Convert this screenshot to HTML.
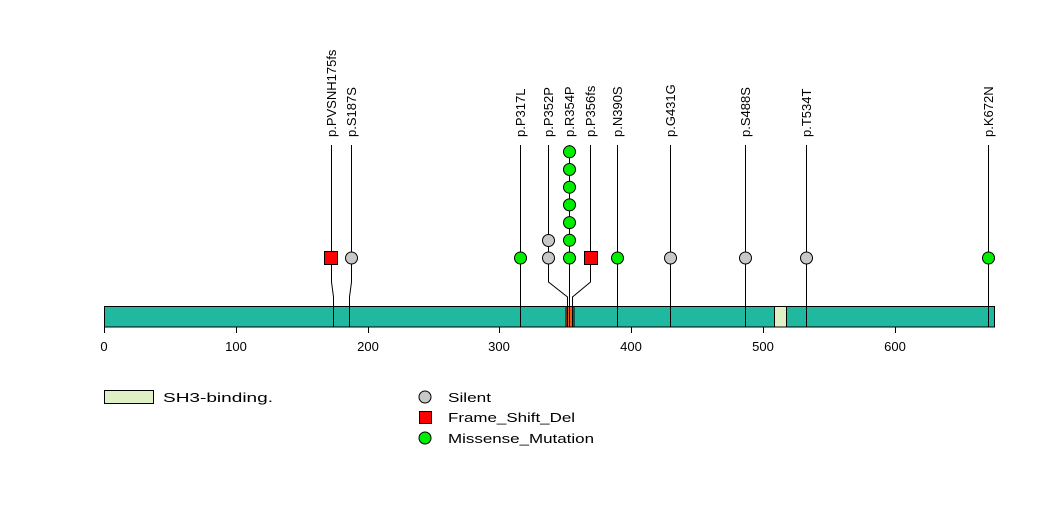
<!DOCTYPE html>
<html><head><style>body{margin:0;background:#fff}svg{display:block}text{font-family:"Liberation Sans",sans-serif;font-size:13px;fill:#000}</style></head><body>
<svg width="1047" height="524" viewBox="0 0 1047 524" xmlns="http://www.w3.org/2000/svg">
<rect x="0" y="0" width="1047" height="524" fill="#fff"/>
<rect x="104.5" y="306.5" width="890" height="20.5" fill="#20b9a0" stroke="#000"/>
<rect x="774.5" y="306.5" width="12" height="20.5" fill="#dff0c4" stroke="#000"/>
<rect x="566" y="306.5" width="8" height="20.5" fill="#e85c20" stroke="#000"/>
<g stroke="#000" stroke-width="1" fill="none">
<path d="M331.5 145V282L333.5 297V327"/>
<path d="M351.5 145V282L349.5 297V327"/>
<path d="M520.5 145V327"/>
<path d="M548.5 145V282L567.5 297V327"/>
<path d="M569.5 145V327"/>
<path d="M590.5 145V282L572.5 297V327"/>
<path d="M617.5 145V327"/>
<path d="M670.5 145V327"/>
<path d="M745.5 145V327"/>
<path d="M806.5 145V327"/>
<path d="M988.5 145V327"/>
<path d="M104.5 327V333M236.5 327V333M368.5 327V333M499.5 327V333M631.5 327V333M763.5 327V333M895.5 327V333"/>
</g>
<g text-anchor="middle" style="font-size:14px"><text x="104" y="351">0</text><text x="236" y="351">100</text><text x="368" y="351">200</text><text x="499" y="351">300</text><text x="631" y="351">400</text><text x="763" y="351">500</text><text x="895" y="351">600</text></g>
<g stroke="#000" stroke-width="1">
<rect x="324.5" y="251.5" width="13" height="13" fill="#ff0000"/>
<rect x="584.5" y="251.5" width="13" height="13" fill="#ff0000"/>
<g fill="#c8c8c8"><circle cx="351.5" cy="258" r="6"/><circle cx="548.5" cy="258" r="6"/><circle cx="548.5" cy="240.5" r="6"/><circle cx="670.5" cy="258" r="6"/><circle cx="745.5" cy="258" r="6"/><circle cx="806.5" cy="258" r="6"/></g>
<g fill="#00ee00"><circle cx="520.5" cy="258" r="6"/><circle cx="569.5" cy="258" r="6"/><circle cx="569.5" cy="240.3" r="6"/><circle cx="569.5" cy="222.6" r="6"/><circle cx="569.5" cy="204.9" r="6"/><circle cx="569.5" cy="187.2" r="6"/><circle cx="569.5" cy="169.5" r="6"/><circle cx="569.5" cy="151.8" r="6"/><circle cx="617.5" cy="258" r="6"/><circle cx="988.5" cy="258" r="6"/></g>
</g>
<g>
<text transform="translate(336,137) rotate(-90)">p.PVSNH175fs</text>
<text transform="translate(356,137) rotate(-90)">p.S187S</text>
<text transform="translate(525,137) rotate(-90)">p.P317L</text>
<text transform="translate(553,137) rotate(-90)">p.P352P</text>
<text transform="translate(574,137) rotate(-90)">p.R354P</text>
<text transform="translate(595,137) rotate(-90)">p.P356fs</text>
<text transform="translate(622,137) rotate(-90)">p.N390S</text>
<text transform="translate(675,137) rotate(-90)">p.G431G</text>
<text transform="translate(750,137) rotate(-90)">p.S488S</text>
<text transform="translate(811,137) rotate(-90)">p.T534T</text>
<text transform="translate(993,137) rotate(-90)">p.K672N</text>
</g>
<rect x="104.5" y="390.5" width="49" height="13" fill="#dff0c4" stroke="#000"/>
<g style="font-size:14px">
<text x="163" y="402" textLength="110" lengthAdjust="spacingAndGlyphs">SH3-binding.</text>
<text x="448" y="402" textLength="43" lengthAdjust="spacingAndGlyphs">Silent</text>
<text x="448" y="422" textLength="127" lengthAdjust="spacingAndGlyphs">Frame_Shift_Del</text>
<text x="448" y="443" textLength="146" lengthAdjust="spacingAndGlyphs">Missense_Mutation</text>
</g>
<circle cx="425" cy="397" r="6" fill="#c8c8c8" stroke="#000"/>
<rect x="419.5" y="411.5" width="12" height="12" fill="#ff0000" stroke="#000"/>
<circle cx="425" cy="438" r="6" fill="#00ee00" stroke="#000"/>
</svg>
</body></html>
